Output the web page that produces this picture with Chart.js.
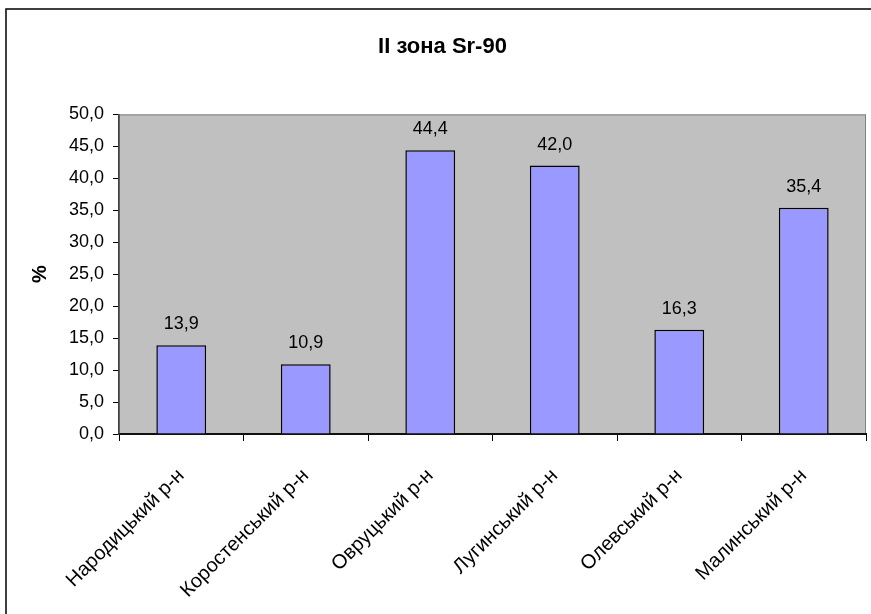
<!DOCTYPE html>
<html>
<head>
<meta charset="utf-8">
<title>II зона Sr-90</title>
<script src="https://cdn.jsdelivr.net/npm/chart.js@4.4.1/dist/chart.umd.min.js"></script>
<style>
    html, body { margin: 0; padding: 0; background: #fff; }
    canvas { display: block; }
</style>
</head>
<body>
<canvas id="chart" width="871" height="614"></canvas>
<script>
// Data
const districts = ['Народицький р-н', 'Коростенський р-н', 'Овруцький р-н', 'Лугинський р-н', 'Олевський р-н', 'Малинський р-н'];
const sr90Values = [13.9, 10.9, 44.4, 42.0, 16.3, 35.4];
const yTickMin = 0;
const yTickMax = 50;
const yTickStep = 5;

const chartTitle = 'II зона Sr-90';
const yAxisTitle = '%';

const fontFamily = "'Liberation Sans', Arial, sans-serif";
const fmt = v => Number(v).toFixed(1).replace('.', ',');

// Gray plot area + outer frame, Excel style
const framePlugin = {
    id: 'frame',
    beforeDraw(chart) {
        const { ctx, chartArea: a } = chart;
        ctx.save();
        ctx.fillStyle = '#fff';
        ctx.fillRect(0, 0, chart.width, chart.height);
        ctx.fillStyle = '#C0C0C0';
        ctx.fillRect(a.left, a.top, a.right - a.left, a.bottom - a.top);
        ctx.strokeStyle = '#808080';
        ctx.lineWidth = 1;
        ctx.strokeRect(a.left + 0.5, a.top + 0.5, a.right - a.left - 1, a.bottom - a.top);
        ctx.restore();
    },
    afterDraw(chart) {
        const { ctx } = chart;
        ctx.save();
        ctx.strokeStyle = '#000';
        ctx.lineWidth = 1.5;
        ctx.strokeRect(6, 9, chart.width + 10, chart.height + 10);
        ctx.restore();
    }
};

// Value labels above the bars
const valueLabels = {
    id: 'valueLabels',
    afterDatasetsDraw(chart) {
        const { ctx } = chart;
        const meta = chart.getDatasetMeta(0);
        ctx.save();
        ctx.font = '18px ' + fontFamily;
        ctx.fillStyle = '#000';
        ctx.textAlign = 'center';
        ctx.textBaseline = 'alphabetic';
        meta.data.forEach((bar, i) => {
            ctx.fillText(fmt(sr90Values[i]), bar.x, bar.y - 16);
        });
        ctx.restore();
    }
};

new Chart(document.getElementById('chart'), {
    type: 'bar',
    data: {
        labels: districts,
        datasets: [{
            data: sr90Values,
            backgroundColor: '#9999FF',
            borderColor: '#000',
            borderWidth: 1.5,
            categoryPercentage: 1,
            barPercentage: 0.4
        }]
    },
    options: {
        responsive: false,
        animation: false,
        events: [],
        // left padding only nudges the title to the right, y-axis width compensates
        layout: { padding: { left: 19, right: 5, top: 0, bottom: 0 } },
        plugins: {
            legend: { display: false },
            tooltip: { enabled: false },
            title: {
                display: true,
                text: chartTitle,
                color: '#000',
                font: { family: fontFamily, size: 22, weight: 'bold' },
                padding: { top: 34, bottom: 54 }
            }
        },
        scales: {
            x: {
                afterFit(scale) { scale.height = 180; },
                grid: { offset: true, drawOnChartArea: false, drawTicks: true, tickLength: 7, color: '#000' },
                border: { display: true, color: '#111', width: 2 },
                ticks: {
                    autoSkip: false,
                    minRotation: 45,
                    maxRotation: 45,
                    padding: 23,
                    color: '#000',
                    font: { family: fontFamily, size: 20 }
                }
            },
            y: {
                min: yTickMin,
                max: yTickMax,
                afterFit(scale) { scale.width = 100; },
                grid: { drawOnChartArea: false, drawTicks: true, tickLength: 6, color: '#000' },
                border: { display: true, color: '#404040', width: 1.5 },
                title: {
                    display: true,
                    text: yAxisTitle,
                    color: '#000',
                    font: { family: fontFamily, size: 20, weight: 'bold' },
                    padding: { top: 9, bottom: 0 }
                },
                ticks: {
                    stepSize: yTickStep,
                    padding: 9,
                    color: '#000',
                    font: { family: fontFamily, size: 18 },
                    callback: v => fmt(v)
                }
            }
        }
    },
    plugins: [framePlugin, valueLabels]
});
</script>
</body>
</html>
